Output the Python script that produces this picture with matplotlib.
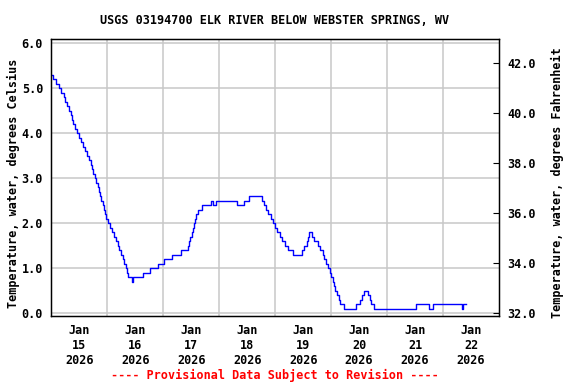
import matplotlib
matplotlib.use("Agg")
import matplotlib.pyplot as plt

# change points of the 15-min record, hours since Jan 15 2026 00:00
hours = [0.0, 0.6, 2.0, 3.2, 4.2, 5.2, 6.0, 6.8, 7.6, 8.2, 8.8, 9.4, 10.0, 10.8,
         11.8, 12.6, 13.6, 14.4, 15.2, 16.0, 16.8, 17.4, 18.0, 18.7, 19.2, 19.8,
         20.4, 20.8, 21.4, 22.0, 22.6, 23.0, 23.6, 24.2, 25.0, 25.8, 26.8, 27.6,
         28.4, 29.2, 30.0, 30.6, 31.2, 32.0, 32.4, 32.8, 34.4, 35.0, 39.1, 42.3,
         45.9, 48.1, 51.7, 55.6, 58.4, 59.0, 59.6, 60.2, 60.6, 61.0, 61.5, 61.9,
         62.7, 64.4, 68.4, 69.4, 70.5, 79.5, 82.6, 84.9, 90.4, 91.3, 92.2, 93.0,
         94.0, 95.0, 96.0, 96.8, 97.9, 98.8, 100.1, 101.7, 103.7, 107.3, 108.3,
         109.7, 110.1, 110.6, 111.8, 112.5, 114.4, 115.4, 116.6, 117.0, 117.7,
         118.7, 119.4, 120.1, 120.8, 121.3, 121.8, 122.6, 123.3, 124.0, 125.4,
         130.8, 132.5, 133.4, 133.9, 135.8, 136.5, 137.2, 138.4, 156.6, 162.0,
         163.6, 176.2, 176.5, 178.0]
temp_c = [5.3, 5.2, 5.1, 5.0, 4.9, 4.8, 4.7, 4.6, 4.5, 4.4, 4.3, 4.2, 4.1, 4.0,
          3.9, 3.8, 3.7, 3.6, 3.5, 3.4, 3.3, 3.2, 3.1, 3.0, 2.9, 2.8,
          2.7, 2.6, 2.5, 2.4, 2.3, 2.2, 2.1, 2.0, 1.9, 1.8, 1.7, 1.6,
          1.5, 1.4, 1.3, 1.2, 1.1, 1.0, 0.9, 0.8, 0.7, 0.8, 0.9, 1.0,
          1.1, 1.2, 1.3, 1.4, 1.5, 1.6, 1.7, 1.8, 1.9, 2.0, 2.1, 2.2,
          2.3, 2.4, 2.5, 2.4, 2.5, 2.4, 2.5, 2.6, 2.5, 2.4, 2.3, 2.2,
          2.1, 2.0, 1.9, 1.8, 1.7, 1.6, 1.5, 1.4, 1.3, 1.4, 1.5,
          1.6, 1.7, 1.8, 1.7, 1.6, 1.5, 1.4, 1.3, 1.2, 1.1,
          1.0, 0.9, 0.8, 0.7, 0.6, 0.5, 0.4, 0.3, 0.2, 0.1,
          0.2, 0.3, 0.4, 0.5, 0.4, 0.3, 0.2, 0.1, 0.2, 0.1,
          0.2, 0.1, 0.2, 0.2]

day_labels = ["Jan\n15\n2026", "Jan\n16\n2026", "Jan\n17\n2026", "Jan\n18\n2026",
              "Jan\n19\n2026", "Jan\n20\n2026", "Jan\n21\n2026", "Jan\n22\n2026"]
c_ticks = [0.0, 1.0, 2.0, 3.0, 4.0, 5.0, 6.0]
f_ticks = [32.0, 34.0, 36.0, 38.0, 40.0, 42.0]

plt.rcParams["font.family"] = "DejaVu Sans Mono"
plt.rcParams["font.weight"] = "bold"
fs = 8.5

fig = plt.figure(figsize=(5.76, 3.84), dpi=100)
ax = fig.add_axes([51.4 / 576, 1 - 315.7 / 384, (499 - 51.4) / 576, (315.7 - 39.3) / 384])

ax.step(hours, temp_c, where="post", color="#0000ff", linewidth=1.0)

ylo, yhi = -0.05, 6.09
ax.set_xlim(0, 24 * len(day_labels))
ax.set_ylim(ylo, yhi)

ax.set_xticks([24 * i for i in range(1, len(day_labels))])
ax.set_xticklabels([])
ax.set_xticks([12 + 24 * i for i in range(len(day_labels))], minor=True)
ax.set_xticklabels(day_labels, minor=True, fontsize=fs, fontweight="bold")
ax.tick_params(axis="x", which="both", length=0)
ax.tick_params(axis="x", which="minor", pad=6)

ax.set_yticks(c_ticks)
ax.set_yticklabels(["%.1f" % v for v in c_ticks], fontsize=fs, fontweight="bold")
ax.tick_params(axis="y", length=0, pad=6)

ax.grid(True, which="major", color="#c8c8c8", linewidth=1.1)
ax.set_axisbelow(True)
for s in ax.spines.values():
    s.set_linewidth(1.0)

ax2 = ax.twinx()
ax2.set_ylim(32 + 1.8 * ylo, 32 + 1.8 * yhi)
ax2.set_yticks(f_ticks)
ax2.set_yticklabels(["%.1f" % v for v in f_ticks], fontsize=fs, fontweight="bold")
ax2.tick_params(axis="y", direction="in", length=4, width=0.8, pad=6)

fig.text(275 / 576, 1 - 20 / 384, "USGS 03194700 ELK RIVER BELOW WEBSTER SPRINGS, WV",
         ha="center", va="center", fontsize=fs, fontweight="bold")
fig.text(13 / 576, 1 - 183 / 384, "Temperature, water, degrees Celsius",
         rotation=90, ha="center", va="center", fontsize=fs, fontweight="bold")
fig.text(557 / 576, 1 - 183 / 384, "Temperature, water, degrees Fahrenheit",
         rotation=90, ha="center", va="center", fontsize=fs, fontweight="bold")
fig.text(275 / 576, 1 - 375 / 384, "---- Provisional Data Subject to Revision ----",
         ha="center", va="center", fontsize=fs, fontweight="bold", color="#ff0000")

fig.savefig("out.png", dpi=100)
